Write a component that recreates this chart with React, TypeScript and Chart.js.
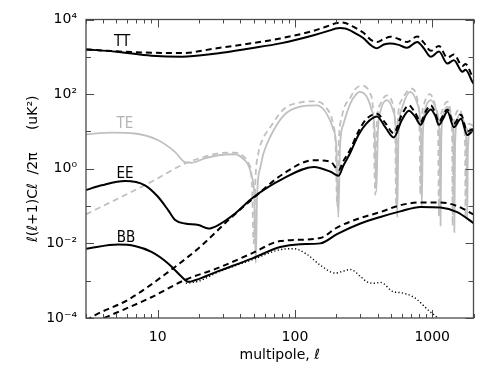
import React, { useEffect, useRef } from "react";
import { Chart, registerables } from "chart.js";

Chart.register(...registerables);

// ---- data (multipole ℓ, ℓ(ℓ+1)Cℓ/2π in uK²) ----
const ttL = [3, 5, 9, 15, 27, 48, 78, 137, 180, 198, 214, 232, 250, 268, 316, 355, 396, 444, 496, 570, 656, 778, 868, 977, 1120, 1290, 1440, 1660, 1750, 1960, 2000];
const ttSolid = [1580, 1370, 1070, 1000, 1230, 1700, 2290, 3800, 5100, 5750, 5950, 5750, 5200, 4500, 3160, 2090, 1700, 2140, 2290, 2090, 1740, 2510, 1700, 1000, 1380, 660, 810, 400, 450, 215, 190];
const ttDash = [1580, 1400, 1290, 1260, 1700, 2300, 3100, 5000, 7000, 7900, 8300, 8100, 7300, 6300, 4400, 2900, 2500, 3000, 3470, 3000, 2500, 3500, 2400, 1450, 1950, 950, 1150, 570, 640, 300, 270];

const teSolidL = [3, 4.6, 6.8, 10, 13.4, 15.8, 17.7, 22, 27.6, 36.6, 43, 46, 48.5, 50.5, 51.8, 53, 56, 59, 66, 83, 109, 145, 170, 191, 200, 207, 213, 226, 253, 283, 296, 330, 360, 380, 392, 402, 420, 468, 520, 545, 556, 568, 600, 692, 780, 825, 840, 855, 900, 980, 1080, 1135, 1150, 1165, 1200, 1290, 1380, 1435, 1450, 1468, 1520, 1610, 1720, 1785, 1800, 1820, 1900, 2000];
const teSolid = [8.3, 9.3, 8.8, 5.9, 2.8, 1.5, 1.45, 1.9, 2.3, 2.45, 1.7, 1.2, 0.6, 0.2, 0.003, 0.2, 1.1, 2.6, 7.2, 27, 46, 50, 30, 11, 4, 0.05, 4, 16, 56, 105, 115, 90, 40, 12, 0.25, 10, 35, 69, 35, 8, 0.05, 8, 40, 115, 55, 10, 0.1, 8, 45, 69, 35, 6, 0.03, 6, 25, 46, 25, 5, 0.02, 4, 20, 30, 15, 3, 0.05, 3, 12, 10];
const teDashL = [3, 5.15, 9, 15.8, 22, 27.6, 36.6, 43, 46, 48.5, 50, 51.5, 54, 58, 66, 83, 110, 140, 170, 190, 198, 203, 208, 220, 253, 290, 316, 350, 372, 385, 395, 420, 468, 520, 538, 546, 555, 600, 710, 780, 808, 820, 832, 880, 960, 1060, 1105, 1120, 1135, 1180, 1290, 1360, 1397, 1410, 1425, 1480, 1580, 1680, 1737, 1750, 1765, 1850, 2000];
const teDash = [0.06, 0.16, 0.45, 1.38, 2.1, 2.6, 2.7, 2.0, 1.38, 0.5, 0.01, 0.5, 2.5, 6, 13, 40, 60, 64, 42, 15, 4, 0.1, 4, 25, 80, 160, 165, 110, 30, 0.2, 15, 55, 93, 50, 10, 0.1, 10, 70, 140, 70, 12, 0.2, 10, 60, 100, 45, 8, 0.05, 8, 35, 63, 35, 6, 0.03, 6, 28, 40, 20, 4, 0.05, 4, 16, 14];

const eeSolidL = [3, 3.9, 5.77, 8.07, 10, 11.9, 13.4, 15.8, 19.8, 23.4, 27.6, 36.6, 48.5, 82.6, 137, 182, 208, 225, 252, 290, 330, 396, 455, 524, 600, 676, 750, 823, 900, 976, 1050, 1120, 1200, 1290, 1440, 1620, 1800, 2000];
const eeSolid = [0.27, 0.36, 0.47, 0.36, 0.18, 0.078, 0.042, 0.034, 0.031, 0.025, 0.031, 0.063, 0.16, 0.55, 1.12, 0.83, 0.65, 1.2, 2.6, 8, 16, 25, 13, 6.9, 20, 36, 25, 15, 28, 39, 27, 15, 22, 34, 13, 22, 8, 11];
const eeDashL = [3, 3.5, 6.1, 11.9, 21, 32.7, 48.5, 82.6, 137, 182, 208, 225, 252, 290, 330, 396, 455, 524, 600, 676, 750, 823, 900, 976, 1050, 1120, 1200, 1290, 1440, 1620, 1800, 2000];
const eeDash = [8.5e-5, 1.2e-4, 3.1e-4, 0.0017, 0.0089, 0.042, 0.15, 0.74, 1.7, 1.53, 0.91, 1.6, 3.2, 10, 21, 30, 17, 9, 28, 50, 32, 18, 35, 50, 32, 18, 27, 39, 16, 28, 10, 12];

const bbSolidL = [3, 5.15, 6.8, 9, 11.9, 15, 16.7, 18.7, 27.6, 48.5, 78, 109, 153, 204, 300, 419, 585, 823, 1150, 1520, 2000];
const bbSolid = [0.0072, 0.0093, 0.0085, 0.0059, 0.0029, 0.00126, 0.00093, 0.00103, 0.0018, 0.0039, 0.008, 0.0095, 0.01, 0.018, 0.034, 0.051, 0.072, 0.095, 0.092, 0.069, 0.035];
const bbDashL = [3, 4.25, 9, 15.8, 27.6, 48.5, 78, 153, 204, 300, 419, 585, 823, 1150, 1520, 2000];
const bbDash = [6e-5, 1.07e-4, 3.6e-4, 0.00105, 0.0022, 0.0054, 0.0115, 0.014, 0.027, 0.048, 0.069, 0.105, 0.125, 0.125, 0.1, 0.06];
const bbDotL = [16, 20, 27.6, 48.5, 78, 98, 122, 153, 197, 225, 253, 300, 335, 380, 420, 524, 580, 735, 960, 1100, 1200];
const bbDot = [0.00085, 0.00098, 0.0017, 0.0036, 0.0068, 0.0072, 0.0051, 0.0026, 0.0016, 0.0018, 0.002, 0.0013, 0.00093, 0.00085, 0.0009, 0.0005, 0.00048, 0.00036, 0.00015, 0.0001, 0.00007];

// ---- axes ----
const xTickVals = [10, 100, 1000];
const xTickLabels = ["10", "100", "1000"];
const xMinorVals = [3, 4, 5, 6, 7, 8, 9, 20, 30, 40, 50, 60, 70, 80, 90, 200, 300, 400, 500, 600, 700, 800, 900, 2000];
const yTickVals = [1e-4, 1e-2, 1, 1e2, 1e4];
const yTickLabels = ["10⁻⁴", "10⁻²", "10⁰", "10²", "10⁴"];
const yMinorVals = [1e-3, 1e-1, 1e1, 1e3];

const seriesLabels = [
  { text: "TT", l: 5.5, v: 2490, color: "#000000" },
  { text: "TE", l: 5.77, v: 15.7, color: "#b4b4b4" },
  { text: "EE", l: 5.77, v: 0.72, color: "#000000" },
  { text: "BB", l: 5.86, v: 0.0137, color: "#000000" },
];

const BLACK = "#000000";
const GREY = "#c0c0c0";
const FONT = "'DejaVu Sans', 'Liberation Sans', sans-serif";

const pts = (ls: number[], vs: number[]) => ls.map((l, i) => ({ x: l, y: vs[i] }));

const decor = {
  id: "decor",
  afterDatasetsDraw(chart: any) {
    const { ctx, chartArea, scales } = chart;
    const { left, right, top, bottom } = chartArea;
    const x = scales.x;
    const y = scales.y;
    ctx.save();
    ctx.strokeStyle = "#4a4a4a";
    ctx.lineWidth = 1.3;
    ctx.strokeRect(left, top, right - left, bottom - top);
    ctx.beginPath();
    const xt = (v: number, len: number) => {
      const p = Math.round(x.getPixelForValue(v)) + 0.5;
      ctx.moveTo(p, bottom);
      ctx.lineTo(p, bottom - len);
      ctx.moveTo(p, top);
      ctx.lineTo(p, top + len);
    };
    const yt = (v: number, len: number) => {
      const p = Math.round(y.getPixelForValue(v)) + 0.5;
      ctx.moveTo(left, p);
      ctx.lineTo(left + len, p);
      ctx.moveTo(right, p);
      ctx.lineTo(right - len, p);
    };
    xTickVals.forEach((v) => xt(v, 8));
    xMinorVals.forEach((v) => xt(v, 4));
    yTickVals.forEach((v) => yt(v, 8));
    yMinorVals.forEach((v) => yt(v, 5));
    ctx.lineWidth = 1;
    ctx.stroke();
    ctx.font = "15px 'Liberation Sans Narrow', 'DejaVu Sans Condensed', sans-serif";
    ctx.textAlign = "center";
    ctx.textBaseline = "middle";
    seriesLabels.forEach((s) => {
      ctx.fillStyle = s.color;
      ctx.fillText(s.text, x.getPixelForValue(s.l), y.getPixelForValue(s.v));
    });
    ctx.restore();
  },
};

export default function App() {
  const ref = useRef<HTMLCanvasElement | null>(null);
  useEffect(() => {
    if (!ref.current) return;
    const line = (data: any, color: string, dash: number[], width: number) => ({
      data,
      borderColor: color,
      backgroundColor: color,
      borderDash: dash,
      borderWidth: width,
      pointRadius: 0,
      fill: false,
      cubicInterpolationMode: "monotone",
    });
    const chart = new Chart(ref.current, {
      type: "line",
      data: {
        datasets: [
          line(pts(ttL, ttSolid), BLACK, [], 2),
          line(pts(ttL, ttDash), BLACK, [6, 4], 2),
          line(pts(eeSolidL, eeSolid), BLACK, [], 2),
          line(pts(eeDashL, eeDash), BLACK, [6, 4], 2),
          line(pts(bbSolidL, bbSolid), BLACK, [], 2),
          line(pts(bbDashL, bbDash), BLACK, [6, 4], 2),
          line(pts(bbDotL, bbDot), BLACK, [1.2, 2.3], 1.4),
          line(pts(teSolidL, teSolid), GREY, [], 1.8),
          line(pts(teDashL, teDash), GREY, [6, 4], 1.8),
        ] as any,
      },
      options: {
        animation: false,
        responsive: false,
        devicePixelRatio: 1,
        layout: { padding: { top: 19.5, right: 12.5, left: 0, bottom: 0 } },
        plugins: { legend: { display: false }, tooltip: { enabled: false } },
        scales: {
          x: {
            type: "logarithmic",
            min: 3,
            max: 2000,
            afterBuildTicks: (s: any) => {
              s.ticks = xTickVals.map((v) => ({ value: v }));
            },
            afterFit: (s: any) => {
              s.height = 64;
            },
            grid: { display: false, drawTicks: false },
            border: { display: false },
            ticks: {
              autoSkip: false,
              maxRotation: 0,
              padding: 11,
              color: "#000",
              font: { family: FONT, size: 14 },
              callback: (v: any) => {
                const i = xTickVals.indexOf(Number(v));
                return i >= 0 ? xTickLabels[i] : "";
              },
            },
            title: {
              display: true,
              text: "multipole, ℓ",
              color: "#000",
              font: { family: FONT, size: 14 },
              padding: { top: 0, bottom: 18 },
            },
          },
          y: {
            type: "logarithmic",
            min: 1e-4,
            max: 1e4,
            afterBuildTicks: (s: any) => {
              s.ticks = yTickVals.map((v) => ({ value: v }));
            },
            afterFit: (s: any) => {
              s.width = 86;
            },
            grid: { display: false, drawTicks: false },
            border: { display: false },
            ticks: {
              autoSkip: false,
              padding: 9,
              color: "#000",
              font: { family: FONT, size: 14 },
              callback: (v: any) => {
                const e = Math.round(Math.log10(Number(v)));
                const i = yTickVals.findIndex((t) => Math.round(Math.log10(t)) === e);
                return i >= 0 ? yTickLabels[i] : "";
              },
            },
            title: {
              display: true,
              text: "ℓ(ℓ+1)Cℓ  /2π     (uK²)",
              color: "#000",
              font: { family: FONT, size: 14 },
              padding: { top: 25, bottom: 0 },
            },
          },
        },
      } as any,
      plugins: [decor],
    });
    return () => chart.destroy();
  }, []);
  return (
    <div style={{ position: "fixed", left: 0, top: 0, width: 486, height: 382, background: "#fff" }}>
      <canvas ref={ref} width={486} height={382} style={{ display: "block", width: 486, height: 382 }} />
    </div>
  );
}
